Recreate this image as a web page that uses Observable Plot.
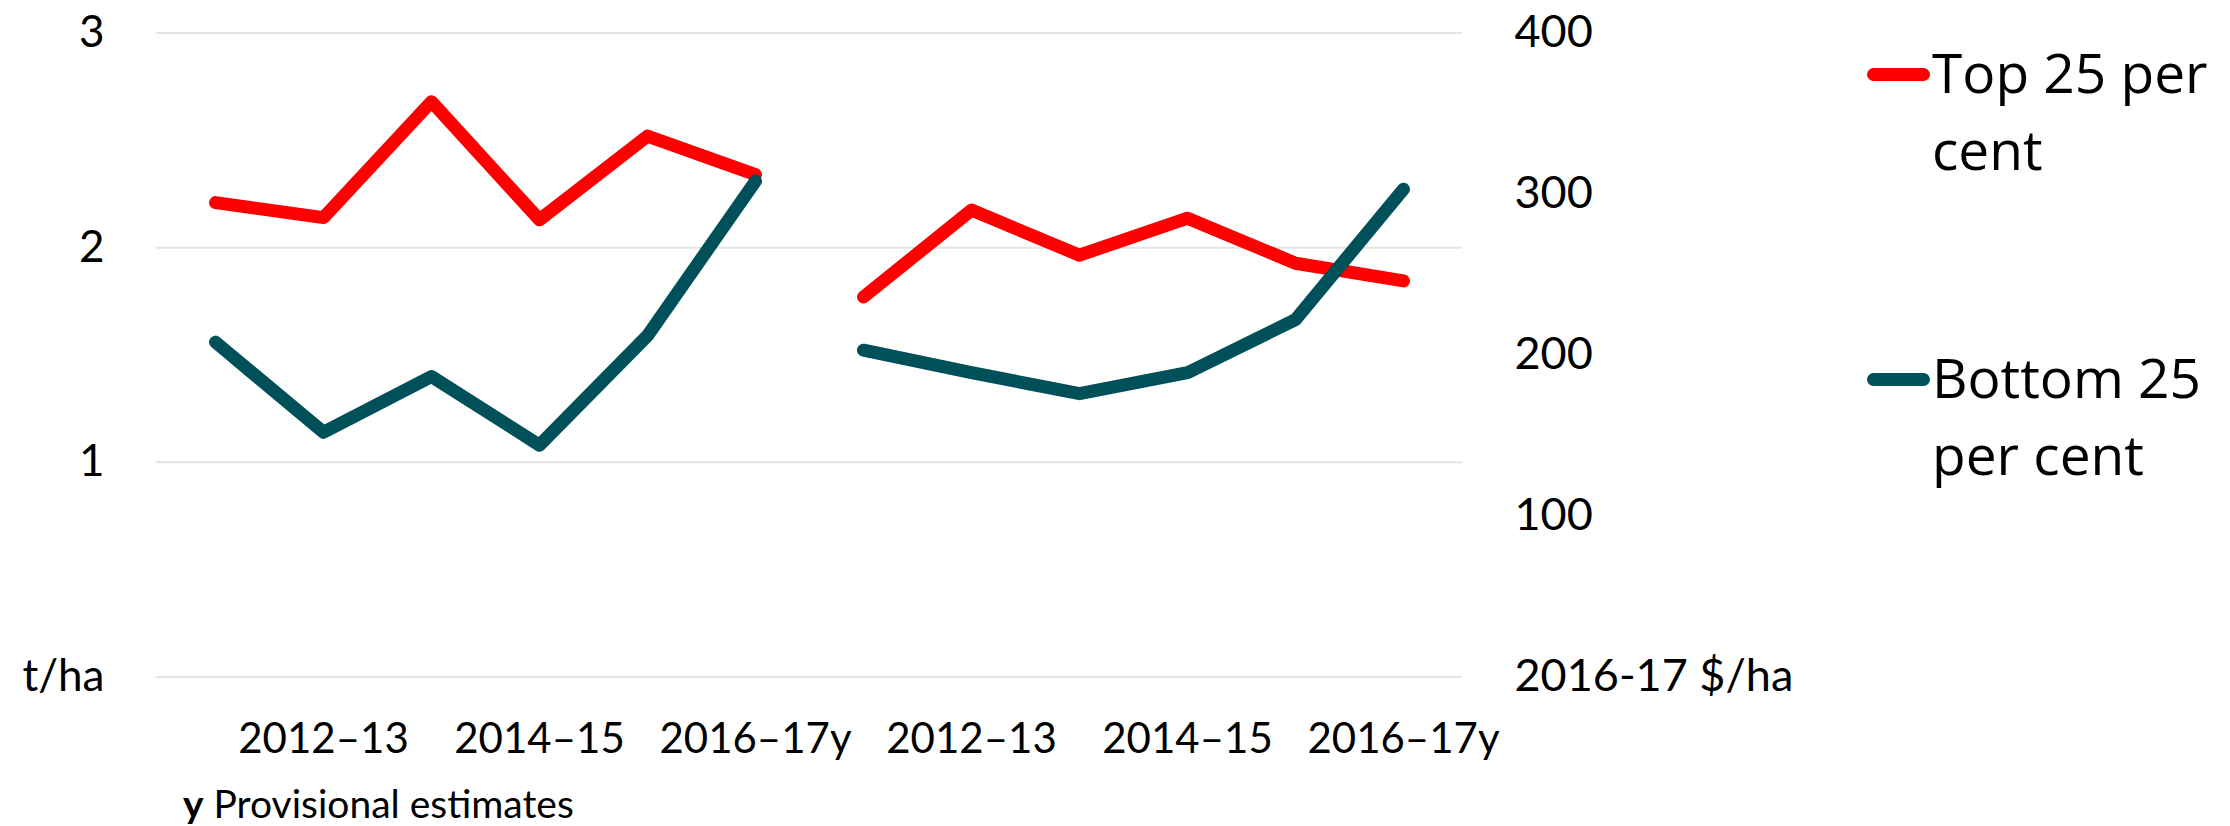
<!DOCTYPE html>
<html>
<head>
<meta charset="utf-8">
<script src="https://cdn.jsdelivr.net/npm/d3@7"></script>
<script src="https://cdn.jsdelivr.net/npm/@observablehq/plot@0.6"></script>
<style>
  html, body { margin: 0; padding: 0; background: #fff; }
  #wrap { position: relative; width: 2230px; height: 826px; overflow: hidden; font-family: Lato, sans-serif; color: #000; }
  #chart { position: absolute; left: 0; top: 0; }
  .leg { position: absolute; left: 1860px; font-family: "Open Sans", sans-serif; font-size: 55px; line-height: 77px; }
  .leg .sw { position: absolute; left: 7px; width: 63px; height: 13px; border-radius: 7px; }
  .leg .tx { position: absolute; left: 72px; white-space: nowrap; }
  #caption { position: absolute; left: 183px; top: 781px; font-size: 39px; line-height: 44px; white-space: nowrap; }
</style>
</head>
<body>
<div id="wrap">
  <div id="chart"></div>
  <div class="leg" id="legTop" style="top:33px"></div>
  <div class="leg" id="legBottom" style="top:338px"></div>
  <div id="caption"><b>y</b> Provisional estimates</div>
</div>
<script>
// ---- data ----
const years = ["2011–12", "2012–13", "2013–14", "2014–15", "2015–16", "2016–17y"];
const labelledYears = ["2012–13", "2014–15", "2016–17y"];
const seriesNames = ["Top 25 per cent", "Bottom 25 per cent"];
const seriesColors = ["#ff0000", "#00505a"];
// left panel, t/ha
const yieldTop = [2.21, 2.14, 2.68, 2.13, 2.52, 2.34];
const yieldBottom = [1.56, 1.14, 1.40, 1.08, 1.59, 2.31];
// right panel, 2016-17 $/ha
const costTop = [236, 290, 262, 285, 257, 246];
const costBottom = [203, 189, 176, 189, 222, 303];
const leftTicks = [0, 1, 2, 3];
const rightTicks = [0, 100, 200, 300, 400];

// right axis mapped onto left scale: 400 $/ha <-> 3 t/ha
const k = 3 / 400;
const panels = ["t", "$"];
const keys = panels.flatMap(p => years.map(y => p + "|" + y));

const rows = [];
function add(panel, series, vals, scale) {
  vals.forEach((v, i) => rows.push({key: panel + "|" + years[i], series, group: panel + series, y: v * scale}));
}
add("t", seriesNames[0], yieldTop, 1);
add("$", seriesNames[0], costTop, k);
add("t", seriesNames[1], yieldBottom, 1);
add("$", seriesNames[1], costBottom, k);

const chart = Plot.plot({
  width: 1840,
  height: 775,
  marginLeft: 156,
  marginRight: 378,
  marginTop: 32.5,
  marginBottom: 98.5,
  style: {fontFamily: "Lato, sans-serif", fontSize: "44px", color: "#000", background: "#fff", overflow: "visible"},
  x: {type: "point", domain: keys, padding: 0.5, axis: null},
  y: {domain: [0, 3], axis: null},
  color: {domain: seriesNames, range: seriesColors},
  marks: [
    Plot.gridY(leftTicks, {stroke: "#e4e4e4", strokeOpacity: 1, strokeWidth: 2}),
    Plot.axisY(leftTicks, {anchor: "left", tickSize: 0, tickPadding: 52, label: null, fontSize: 44,
      tickFormat: d => d === 0 ? "t/ha" : String(d)}),
    Plot.axisY(rightTicks.map(v => v * k), {anchor: "right", tickSize: 0, tickPadding: 52, label: null, fontSize: 45, textAnchor: "start",
      tickFormat: d => { const v = Math.round(d / k); return v === 0 ? "2016-17 $/ha" : String(v); }}),
    Plot.axisX(keys.filter(kk => labelledYears.includes(kk.split("|")[1])), {anchor: "bottom", tickSize: 0, tickPadding: 46, label: null, fontSize: 42,
      tickFormat: d => d.split("|")[1]}),
    Plot.line(rows, {x: "key", y: "y", z: "group", stroke: "series", strokeWidth: 13,
      strokeLinecap: "round", strokeLinejoin: "round"})
  ]
});
document.getElementById("chart").appendChild(chart);

function legendItem(id, name, color) {
  const el = document.getElementById(id);
  const parts = name === seriesNames[0] ? ["Top 25 per", "cent"] : ["Bottom 25", "per cent"];
  el.innerHTML = `<div class="sw" style="background:${color};top:35px"></div><div class="tx">${parts[0]}<br>${parts[1]}</div>`;
}
legendItem("legTop", seriesNames[0], seriesColors[0]);
legendItem("legBottom", seriesNames[1], seriesColors[1]);
</script>
</body>
</html>
